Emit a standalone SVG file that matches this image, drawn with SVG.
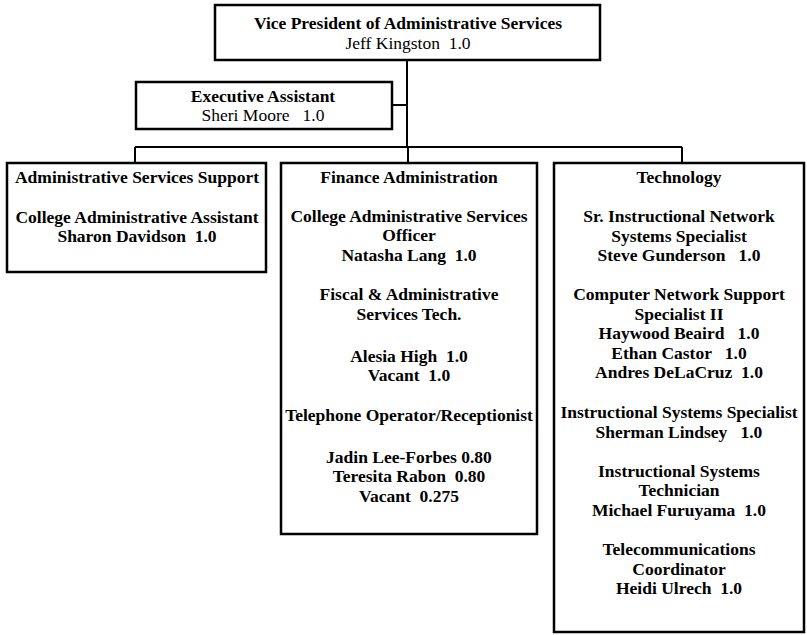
<svg xmlns="http://www.w3.org/2000/svg" width="807" height="635" viewBox="0 0 807 635">
<style>
.box{fill:#fff;stroke:#000;stroke-width:2.5}
.ln{fill:none;stroke:#000;stroke-width:2}
text{font-family:"Liberation Serif","Times New Roman",serif;font-size:17.5px;fill:#000;text-anchor:middle}
.b{font-weight:bold}
</style>
<rect width="807" height="635" fill="#fff"/>
<g id="connectors">
<path class="ln" d="M407 60V147M392 105H407M135 147H682M135 147V163M408 147V163M682 147V163"/>
</g>
<g id="vp">
<rect class="box" x="215" y="5" width="385" height="55"/>
<text class="b" x="408" y="29">Vice President of Administrative Services</text>
<text x="408" y="49" xml:space="preserve">Jeff Kingston  1.0</text>
</g>
<g id="exec">
<rect class="box" x="136" y="82" width="256" height="47"/>
<text class="b" x="263" y="102">Executive Assistant</text>
<text x="263" y="121" xml:space="preserve">Sheri Moore   1.0</text>
</g>
<g id="support">
<rect class="box" x="7" y="163" width="259" height="109"/>
<text class="b" x="137" y="183">Administrative Services Support</text>
<text class="b" x="137" y="223">College Administrative Assistant</text>
<text class="b" x="137" y="242" xml:space="preserve">Sharon Davidson  1.0</text>
</g>
<g id="finance">
<rect class="box" x="281" y="163" width="256" height="371"/>
<text class="b" x="409" y="183">Finance Administration</text>
<text class="b" x="409" y="222">College Administrative Services</text>
<text class="b" x="409" y="241">Officer</text>
<text class="b" x="409" y="261" xml:space="preserve">Natasha Lang  1.0</text>
<text class="b" x="409" y="300">Fiscal &amp; Administrative</text>
<text class="b" x="409" y="320">Services Tech.</text>
<text class="b" x="409" y="362" xml:space="preserve">Alesia High  1.0</text>
<text class="b" x="409" y="381" xml:space="preserve">Vacant  1.0</text>
<text class="b" x="409" y="421">Telephone Operator/Receptionist</text>
<text class="b" x="409" y="463">Jadin Lee-Forbes 0.80</text>
<text class="b" x="409" y="482" xml:space="preserve">Teresita Rabon  0.80</text>
<text class="b" x="409" y="502" xml:space="preserve">Vacant  0.275</text>
</g>
<g id="technology">
<rect class="box" x="554" y="163" width="250" height="469"/>
<text class="b" x="679" y="183">Technology</text>
<text class="b" x="679" y="222">Sr. Instructional Network</text>
<text class="b" x="679" y="242">Systems Specialist</text>
<text class="b" x="679" y="261" xml:space="preserve">Steve Gunderson   1.0</text>
<text class="b" x="679" y="300">Computer Network Support</text>
<text class="b" x="679" y="320">Specialist II</text>
<text class="b" x="679" y="339" xml:space="preserve">Haywood Beaird   1.0</text>
<text class="b" x="679" y="359" xml:space="preserve">Ethan Castor   1.0</text>
<text class="b" x="679" y="378" xml:space="preserve">Andres DeLaCruz  1.0</text>
<text class="b" x="679" y="418">Instructional Systems Specialist</text>
<text class="b" x="679" y="438" xml:space="preserve">Sherman Lindsey   1.0</text>
<text class="b" x="679" y="477">Instructional Systems</text>
<text class="b" x="679" y="496">Technician</text>
<text class="b" x="679" y="516" xml:space="preserve">Michael Furuyama  1.0</text>
<text class="b" x="679" y="555">Telecommunications</text>
<text class="b" x="679" y="575">Coordinator</text>
<text class="b" x="679" y="594" xml:space="preserve">Heidi Ulrech  1.0</text>
</g>
</svg>
